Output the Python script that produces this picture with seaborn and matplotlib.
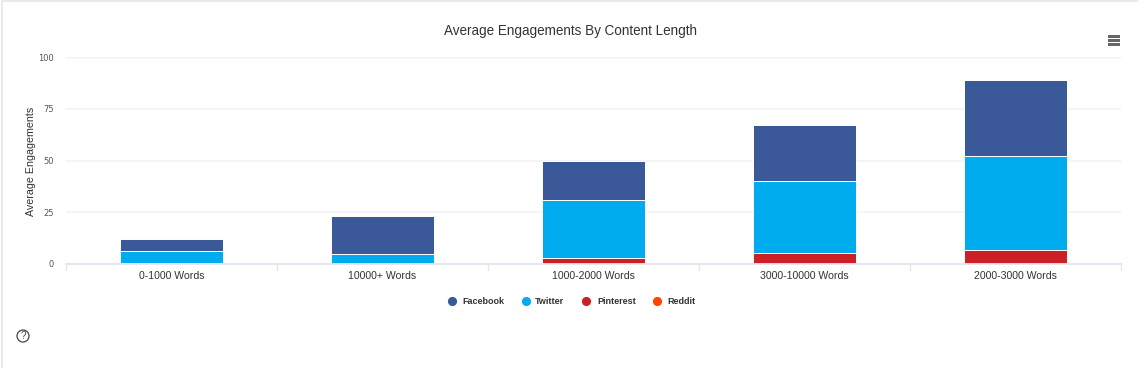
import matplotlib
matplotlib.use("Agg")
import matplotlib.pyplot as plt
import numpy as np
import seaborn as sns
from matplotlib.lines import Line2D
from matplotlib.patches import Circle, Rectangle

categories = ["0-1000 Words", "10000+ Words", "1000-2000 Words", "3000-10000 Words", "2000-3000 Words"]
reddit = [0.0, 0.0, 0.0, 0.0, 0.0]
pinterest = [0.3, 0.0, 2.5, 4.9, 6.4]
twitter = [5.7, 4.6, 28.1, 35.1, 45.6]
facebook = [6.1, 18.5, 19.3, 27.4, 37.1]
y_ticks = [0, 25, 50, 75, 100]

series_names = ["Facebook", "Twitter", "Pinterest", "Reddit"]
series_colors = ["#3b5998", "#00acee", "#cb2027", "#ff4500"]

W, H = 1138, 368
TEXT = "#333333"

sns.set_theme(style="white")
plt.rcParams["font.family"] = ["Liberation Sans", "DejaVu Sans"]

fig = plt.figure(figsize=(W / 100, H / 100), dpi=100)
ax = fig.add_axes([66 / W, 1 - 263.5 / H, 1055 / W, 206 / H])

# stack from the bottom up, highcharts style white-ish edges between segments
stack = [(reddit, 3), (pinterest, 2), (twitter, 1), (facebook, 0)]
bottom = np.zeros(len(categories))
for vals, i in stack:
    sns.barplot(
        x=categories,
        y=vals,
        bottom=bottom,
        color=series_colors[i],
        saturation=1,
        width=0.49,
        edgecolor="white",
        linewidth=0.7,
        ax=ax,
    )
    bottom = bottom + np.array(vals)

ax.set_xlim(-0.5, 4.5)
ax.set_ylim(0, 100)
ax.set_yticks(y_ticks)
ax.set_xticks(np.arange(len(categories)))
ax.set_xticklabels(categories)
ax.set_axisbelow(True)
ax.yaxis.grid(True, color="#f3f3f6", linewidth=1.1, clip_on=False)
ax.xaxis.grid(False)
sns.despine(ax=ax, left=True, top=True, right=True)
ax.spines["bottom"].set_color("#e3e6f2")
ax.spines["bottom"].set_linewidth(1.3)
ax.tick_params(axis="x", length=0, labelsize=7.6, labelcolor=TEXT, pad=5.5)
ax.tick_params(axis="y", length=0, labelsize=6.0, labelcolor="#555555", pad=8.5)
for label in ax.get_yticklabels():
    label.set_fontfamily(["DejaVu Sans"])
ax.set_xlabel("")
ax.set_ylabel("Average Engagements", fontsize=7.7, color=TEXT, labelpad=0)
ax.yaxis.set_label_coords(-30 / 1055, 0.495)

# category separators below the axis line
for px in np.linspace(66, 1121, 6):
    fig.add_artist(Line2D([px / W, px / W], [1 - 263 / H, 1 - 270 / H], color="#e3e6f2", linewidth=1))

fig.text(571 / W, 1 - 30.5 / H, "Average Engagements By Content Length", ha="center", va="center",
         fontsize=9.75, color=TEXT)

# legend
marker_px = [452, 526, 586, 657]
label_px = [462, 535, 597, 667]
for name, color, mx, lx in zip(series_names, series_colors, marker_px, label_px):
    fig.add_artist(Line2D([mx / W], [1 - 301 / H], marker="o", markersize=6.6, color=color, linestyle="none",
                          markeredgewidth=0))
    fig.text(lx / W, 1 - 302 / H, name, ha="left", va="center", fontsize=6.5, fontweight="bold", color=TEXT)

# menu icon
for py in (36, 40, 44):
    fig.add_artist(Rectangle((1108 / W, 1 - (py + 1.5) / H), 12 / W, 3 / H, facecolor="#666666",
                             transform=fig.transFigure, linewidth=0))

# help icon
help_ax = fig.add_axes([15 / W, 1 - 344 / H, 16 / W, 16 / H])
help_ax.set_xlim(0, 16)
help_ax.set_ylim(0, 16)
help_ax.axis("off")
help_ax.add_patch(Circle((8, 8), 6, fill=False, edgecolor="#444444", linewidth=0.9))
help_ax.text(8, 7.8, "?", ha="center", va="center", fontsize=7, color="#444444")

# card border
fig.add_artist(Line2D([2 / W, 2 / W], [0, 1 - 1 / H], color="#e6e6e6", linewidth=1.2))
fig.add_artist(Line2D([2 / W, 1], [1 - 1 / H, 1 - 1 / H], color="#e6e6e6", linewidth=1.2))

fig.savefig("out.png", dpi=100)
